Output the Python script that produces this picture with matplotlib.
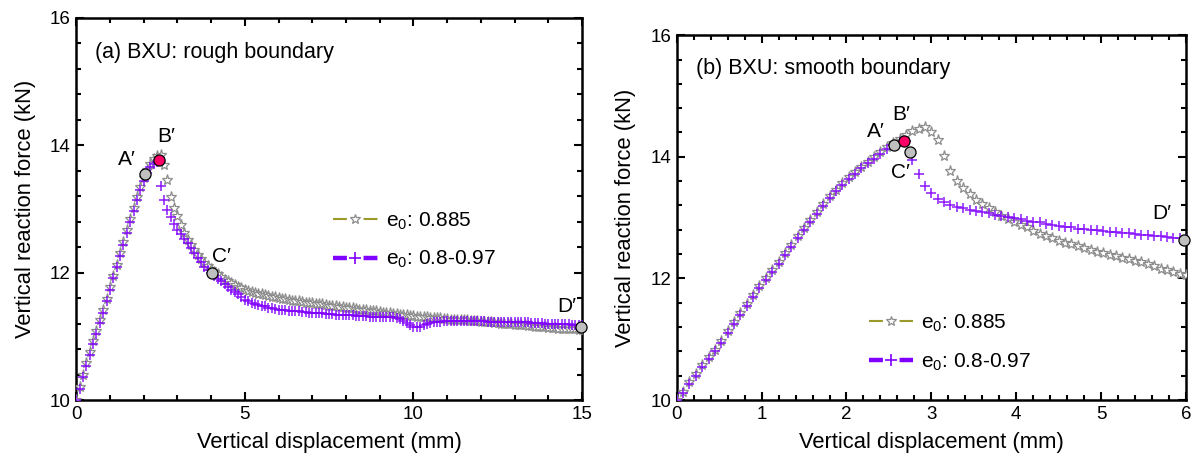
import numpy as np
import matplotlib
matplotlib.use("Agg")
import matplotlib.pyplot as plt
from matplotlib.lines import Line2D
from matplotlib.ticker import MultipleLocator

plt.rcParams['font.family'] = ['Liberation Sans', 'DejaVu Sans']
plt.rcParams['mathtext.fontset'] = 'custom'
plt.rcParams['mathtext.rm'] = 'Liberation Sans'
plt.rcParams['mathtext.default'] = 'regular'
plt.rcParams['lines.scale_dashes'] = False

# ---------------- data: (a) rough boundary, displacement step 0.1 mm ----------------
step_a = 0.1
rough_e0_885 = [
    10.00, 10.20, 10.40, 10.58, 10.75, 10.92, 11.08, 11.25, 11.41, 11.59,
    11.77, 11.95, 12.12, 12.30, 12.48, 12.66, 12.84, 13.01, 13.19, 13.34,
    13.48, 13.61, 13.71, 13.78, 13.83, 13.85, 13.68, 13.45, 13.19, 13.02,
    12.88, 12.75, 12.62, 12.51, 12.43, 12.35, 12.28, 12.21, 12.15, 12.10,
    12.05, 12.01, 11.97, 11.93, 11.89, 11.86, 11.83, 11.80, 11.77, 11.75,
    11.73, 11.71, 11.70, 11.68, 11.67, 11.66, 11.64, 11.63, 11.62, 11.61,
    11.60, 11.59, 11.58, 11.57, 11.56, 11.56, 11.55, 11.54, 11.53, 11.53,
    11.52, 11.51, 11.50, 11.50, 11.49, 11.48, 11.48, 11.47, 11.46, 11.46,
    11.45, 11.44, 11.44, 11.43, 11.42, 11.42, 11.41, 11.40, 11.39, 11.39,
    11.38, 11.37, 11.37, 11.36, 11.35, 11.35, 11.34, 11.33, 11.33, 11.32,
    11.32, 11.31, 11.31, 11.30, 11.30, 11.29, 11.29, 11.28, 11.28, 11.27,
    11.27, 11.26, 11.26, 11.26, 11.25, 11.25, 11.25, 11.24, 11.24, 11.24,
    11.23, 11.23, 11.22, 11.22, 11.21, 11.21, 11.20, 11.20, 11.19, 11.19,
    11.18, 11.18, 11.17, 11.17, 11.16, 11.16, 11.15, 11.15, 11.14, 11.14,
    11.13, 11.13, 11.13, 11.12, 11.12, 11.12, 11.11, 11.11, 11.11, 11.10,
    11.10]
rough_e0_range = [
    10.00, 10.17, 10.36, 10.54, 10.71, 10.88, 11.04, 11.21, 11.37, 11.55,
    11.73, 11.91, 12.08, 12.26, 12.44, 12.62, 12.80, 12.97, 13.14, 13.29,
    13.43, 13.56, 13.65, 13.71, 13.74, 13.36, 13.14, 12.98, 12.87, 12.76,
    12.67, 12.60, 12.53, 12.46, 12.38, 12.31, 12.23, 12.16, 12.09, 12.04,
    12.00, 11.95, 11.90, 11.86, 11.82, 11.77, 11.73, 11.69, 11.66, 11.61,
    11.57, 11.55, 11.53, 11.51, 11.49, 11.48, 11.47, 11.45, 11.44, 11.43,
    11.42, 11.41, 11.41, 11.40, 11.40, 11.39, 11.39, 11.38, 11.38, 11.37,
    11.37, 11.37, 11.36, 11.36, 11.35, 11.35, 11.35, 11.34, 11.34, 11.33,
    11.33, 11.33, 11.33, 11.32, 11.32, 11.32, 11.32, 11.31, 11.31, 11.31,
    11.31, 11.31, 11.30, 11.30, 11.30, 11.29, 11.27, 11.24, 11.21, 11.18,
    11.15, 11.14, 11.15, 11.18, 11.20, 11.21, 11.22, 11.23, 11.23, 11.24,
    11.24, 11.24, 11.24, 11.24, 11.24, 11.24, 11.24, 11.24, 11.24, 11.24,
    11.24, 11.24, 11.23, 11.23, 11.23, 11.23, 11.23, 11.23, 11.23, 11.23,
    11.23, 11.22, 11.22, 11.22, 11.22, 11.21, 11.21, 11.21, 11.21, 11.20,
    11.20, 11.20, 11.20, 11.19, 11.19, 11.19, 11.19, 11.18, 11.18, 11.18,
    11.18]
rough_pts_x = [2.05, 2.45, 4.02, 14.98]
rough_pts_y = [13.55, 13.76, 12.00, 11.15]
rough_pts_lab = ["A\u2032", "B\u2032", "C\u2032", "D\u2032"]
rough_lab_x = [1.50, 2.67, 4.30, 14.55]
rough_lab_y = [13.77, 14.13, 12.25, 11.46]

# ---------------- data: (b) smooth boundary, displacement step 0.075 mm ----------------
step_b = 0.075
smooth_e0_885 = [
    10.00, 10.14, 10.29, 10.43, 10.57, 10.70, 10.83, 10.97, 11.13, 11.28,
    11.43, 11.58, 11.73, 11.88, 12.01, 12.14, 12.27, 12.41, 12.55, 12.69,
    12.83, 12.96, 13.09, 13.22, 13.35, 13.46, 13.57, 13.66, 13.75, 13.84,
    13.92, 14.00, 14.08, 14.16, 14.23, 14.30, 14.36, 14.42, 14.46, 14.49,
    14.40, 14.28, 14.02, 13.77, 13.61, 13.49, 13.39, 13.29, 13.22, 13.15,
    13.09, 13.03, 12.98, 12.93, 12.88, 12.84, 12.78, 12.73, 12.69, 12.66,
    12.62, 12.59, 12.56, 12.53, 12.50, 12.47, 12.44, 12.42, 12.39, 12.37,
    12.34, 12.32, 12.29, 12.27, 12.24, 12.20, 12.16, 12.14, 12.11, 12.08,
    12.06]
smooth_e0_range = [
    10.00, 10.12, 10.26, 10.40, 10.54, 10.67, 10.80, 10.94, 11.10, 11.25,
    11.40, 11.55, 11.70, 11.85, 11.98, 12.11, 12.24, 12.38, 12.52, 12.66,
    12.80, 12.93, 13.06, 13.19, 13.32, 13.43, 13.54, 13.63, 13.72, 13.81,
    13.89, 13.97, 14.05, 14.13, 14.19, 14.24, 14.26, 13.95, 13.72, 13.52,
    13.40, 13.31, 13.25, 13.21, 13.18, 13.15, 13.13, 13.11, 13.09, 13.07,
    13.05, 13.03, 13.01, 12.99, 12.97, 12.95, 12.93, 12.92, 12.90, 12.88,
    12.87, 12.85, 12.84, 12.82, 12.81, 12.80, 12.79, 12.78, 12.77, 12.76,
    12.75, 12.74, 12.73, 12.72, 12.71, 12.70, 12.69, 12.68, 12.67, 12.66,
    12.65]
smooth_pts_x = [2.56, 2.68, 2.75, 5.98]
smooth_pts_y = [14.20, 14.26, 14.08, 12.64]
smooth_pts_lab = ["A\u2032", "B\u2032", "C\u2032", "D\u2032"]
smooth_lab_x = [2.35, 2.65, 2.63, 5.71]
smooth_lab_y = [14.41, 14.69, 13.75, 13.07]

series_labels = ["e$_0$: 0.885", "e$_0$: 0.8-0.97"]
panel_titles = ["(a) BXU: rough boundary", "(b) BXU: smooth boundary"]
xlabel = "Vertical displacement (mm)"
ylabel = "Vertical reaction force (kN)"

GRAY = '#8c8c8c'
PURPLE = '#8000ff'
OLIVE = '#9a9a2a'
PINK = '#ff0066'
CIRC = '#c0c0c0'

fig = plt.figure(figsize=(11.99, 4.63), dpi=100)
axA = fig.add_axes([0.0636, 0.136, 0.4218, 0.826])
axB = fig.add_axes([0.5644, 0.136, 0.4248, 0.788])


def draw(ax, step, y1, y2, px, py, plab, lx, ly, xmax, xmaj, xmin_, title, leg_anchor):
    y1 = np.asarray(y1)
    y2 = np.asarray(y2)
    x1 = np.arange(len(y1)) * step
    x2 = np.arange(len(y2)) * step
    ax.plot(x1, y1, ls='none', marker='*', ms=8, mfc='white', mec=GRAY, mew=0.9, zorder=3)
    ax.plot(x2, y2, ls='none', marker='+', ms=7, mec=PURPLE, mew=1.1, alpha=0.9, zorder=4)
    for i, (xx, yy) in enumerate(zip(px, py)):
        fc = PINK if i == 1 else CIRC
        ax.plot([xx], [yy], ls='none', marker='o', ms=8, mfc=fc, mec='black', mew=0.9,
                zorder=6, clip_on=False)
    for t, xx, yy in zip(plab, lx, ly):
        ax.text(xx, yy, t, fontsize=15, ha='center', va='center', zorder=7)
    ax.set_xlim(0, xmax)
    ax.set_ylim(10, 16)
    ax.xaxis.set_major_locator(MultipleLocator(xmaj))
    ax.xaxis.set_minor_locator(MultipleLocator(xmin_))
    ax.yaxis.set_major_locator(MultipleLocator(2))
    ax.yaxis.set_minor_locator(MultipleLocator(0.4))
    ax.tick_params(which='both', direction='in', top=True, right=True, width=1.5,
                   labelsize=13.5, pad=4)
    ax.tick_params(which='major', length=6)
    ax.tick_params(which='minor', length=3.5)
    for s in ax.spines.values():
        s.set_linewidth(1.8)
    ax.set_xlabel(xlabel, fontsize=15.8, labelpad=7)
    ax.set_ylabel(ylabel, fontsize=15.8, labelpad=10)
    ax.text(0.038, 0.91, title, transform=ax.transAxes, fontsize=15.5, ha='left', va='center')
    h1 = Line2D([], [], color=OLIVE, lw=1.5, ls=(0, (10, 12, 10, 30)),
                marker='*', ms=7, mfc='white', mec=GRAY, mew=0.9)
    h2 = Line2D([], [], color=PURPLE, lw=3.2, ls=(0, (10, 12, 10, 30)),
                marker='+', ms=8, mec=PURPLE, mew=1.2)
    ax.legend([h1, h2], series_labels, loc='upper left', bbox_to_anchor=leg_anchor,
              frameon=False, fontsize=15, handlelength=2.13, handletextpad=0.4,
              labelspacing=0.84, borderpad=0, borderaxespad=0, numpoints=1)


draw(axA, step_a, rough_e0_885, rough_e0_range, rough_pts_x, rough_pts_y, rough_pts_lab,
     rough_lab_x, rough_lab_y, 15, 5, 1, panel_titles[0], (0.508, 0.496))
draw(axB, step_b, smooth_e0_885, smooth_e0_range, smooth_pts_x, smooth_pts_y, smooth_pts_lab,
     smooth_lab_x, smooth_lab_y, 6, 1, 0.2, panel_titles[1], (0.377, 0.24))

fig.savefig("out.png", dpi=100)
